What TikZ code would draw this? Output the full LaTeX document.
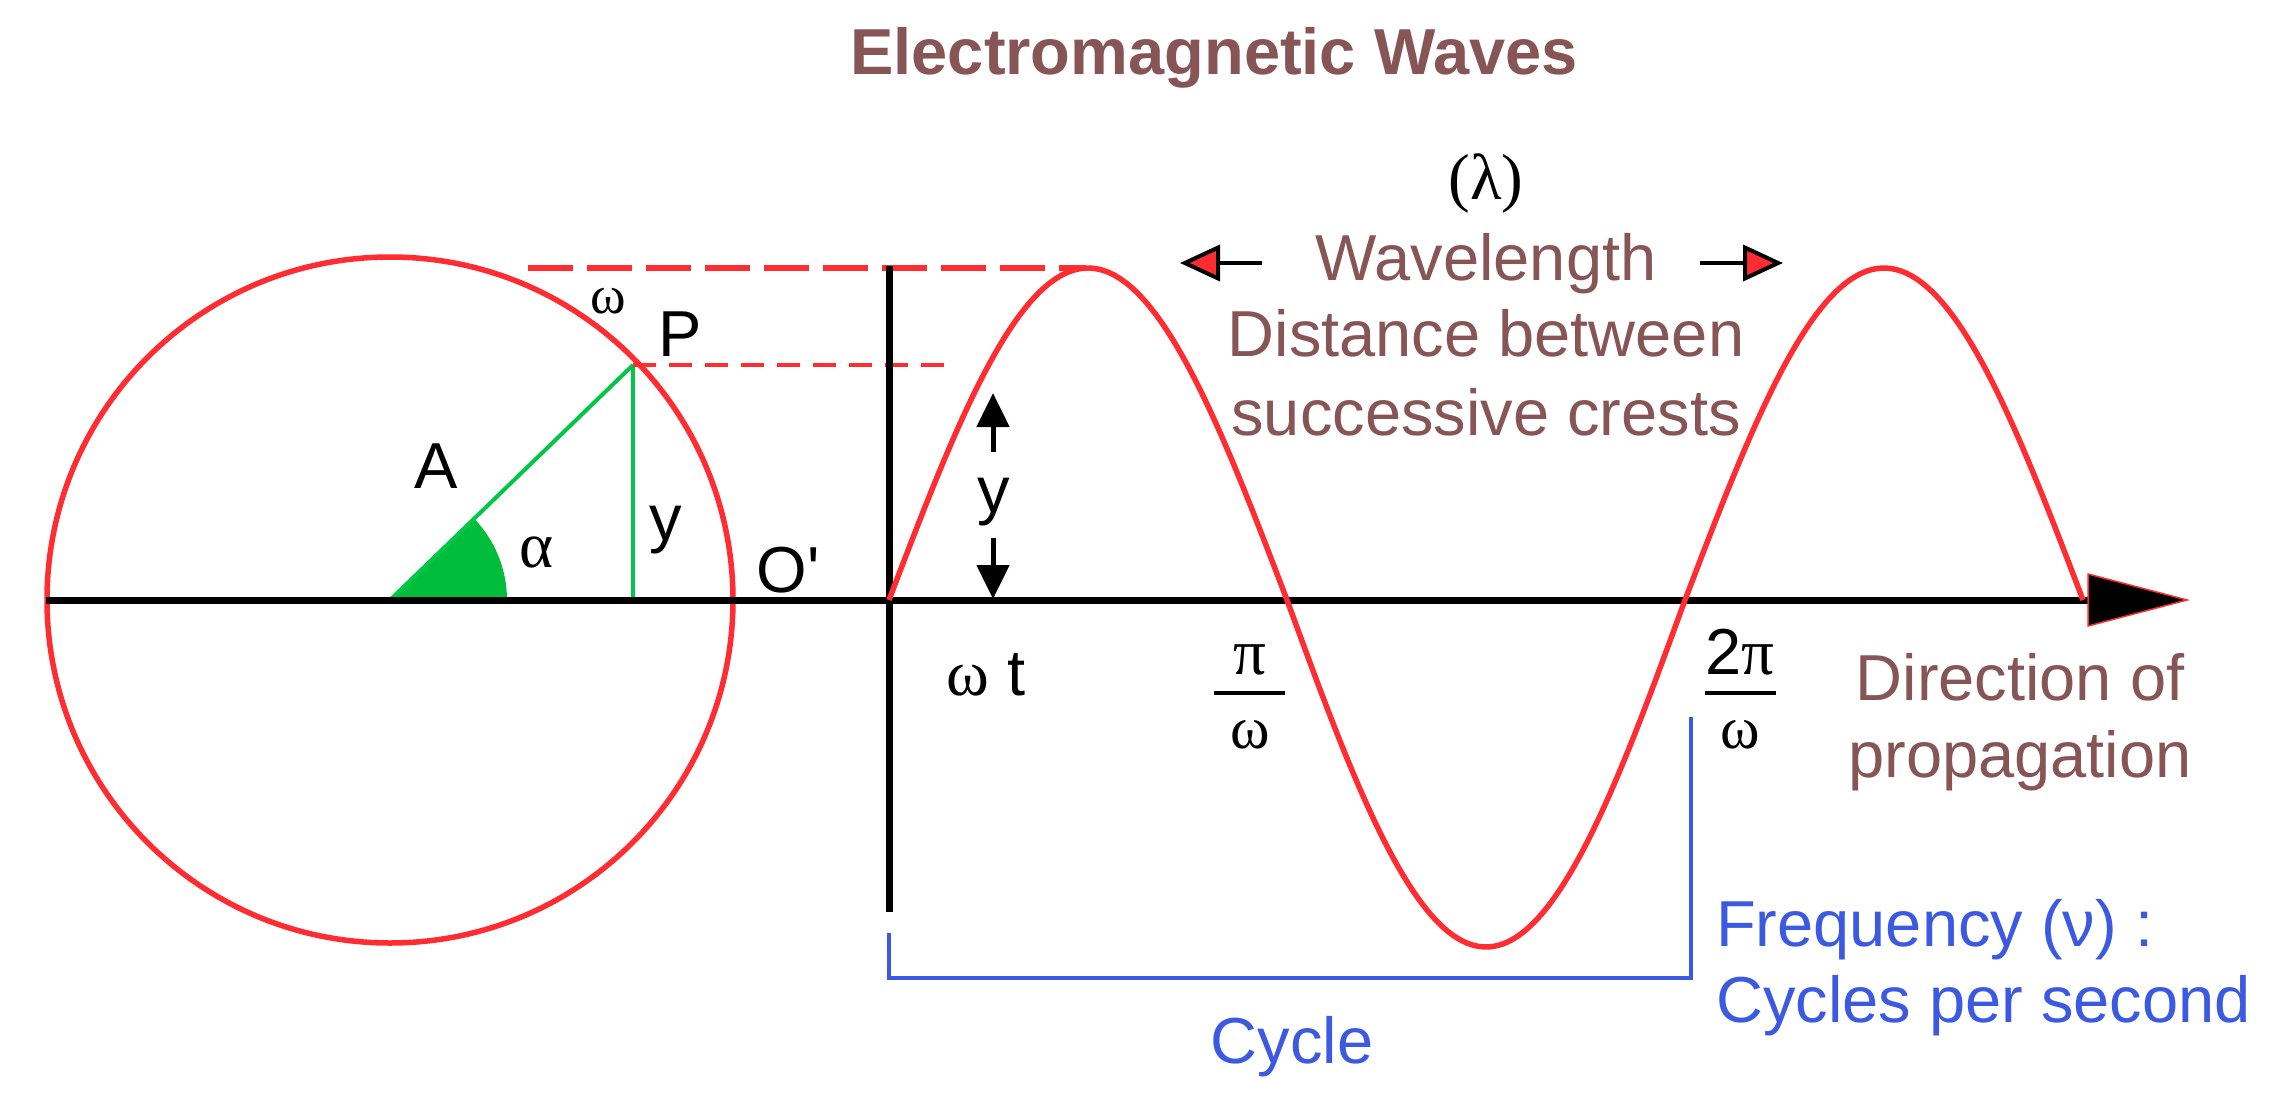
\documentclass[tikz,border=0pt]{standalone}
\usepackage{fontspec}
\setmainfont{Liberation Sans}
\newfontfamily\grk{Liberation Serif}
\newfontfamily\nomap{Liberation Sans}
\usetikzlibrary{arrows.meta}
\definecolor{wred}{RGB}{255,45,50}
\definecolor{wgreen}{RGB}{0,200,70}
\definecolor{sgreen}{RGB}{0,190,60}
\definecolor{brn}{RGB}{135,85,85}
\definecolor{cblue}{RGB}{60,90,225}
\begin{document}
\begin{tikzpicture}[x=1pt,y=-1pt,
  lbl/.style={inner sep=0pt, anchor=base, font=\fontsize{65}{78}\selectfont},
  redline/.style={wred, line width=5.5pt},
  greenline/.style={wgreen, line width=4pt},
  axisline/.style={black, line width=7pt},
  bluebr/.style={cblue, line width=4pt},
  yarrow/.style={line width=5pt, -{Triangle[length=34pt,width=32pt]}},
  wlarrow/.style={black, line width=4pt, -{Triangle[length=40pt,width=36pt,fill=wred]}}
]
\useasboundingbox (0,0) rectangle (2279,1095);

% coordinates
\coordinate (O) at (390,600);
\coordinate (P) at (633,365);
\coordinate (Pf) at (633,600);
\coordinate (axL) at (46,600);
\coordinate (axR) at (2090,600);
\coordinate (vT) at (889,266);
\coordinate (vB) at (889,912);

% title
\node[lbl, text=brn, font=\fontsize{65}{78}\selectfont\bfseries] (title) at (1214,74) {Electromagnetic Waves};

% circle
\draw[redline] (O) circle[radius=343];

% green sector and lines
\fill[sgreen] (O) -- plot[domain=0:44, samples=30] ({390+117*cos(\x)},{600-117*sin(\x)}) -- cycle;
\draw[greenline] (O) -- (P);
\draw[greenline] (P) -- (Pf);

% dashed lines
\coordinate (dT1) at (528,268);
\coordinate (dT2) at (1086,268);
\draw[wred, line width=6.5pt, dash pattern=on 45pt off 14pt] (dT1) -- (dT2);
\coordinate (dP2) at (955,365);
\draw[wred, line width=3.5pt, dash pattern=on 23pt off 13pt] (P) -- (dP2);

% axes
\draw[axisline] (axL) -- (axR);
\filldraw[fill=black, draw=wred, line width=1.5pt] (2088,574) -- (2187,600) -- (2088,626) -- cycle;
\draw[axisline] (vT) -- (vB);

% wave
\draw[redline, line join=round] plot[domain=0:180, samples=80] ({889+\x/180*398},{600-332*sin(\x)})
  -- plot[domain=180:360, samples=80] ({889+\x/180*398},{600-347*sin(\x)})
  -- plot[domain=360:540, samples=80] ({889+\x/180*398},{600-332*sin(\x)});

% y arrows
\coordinate (yu1) at (993,452);
\coordinate (yu2) at (993,393);
\coordinate (yd1) at (993,538);
\coordinate (yd2) at (993,599);
\draw[yarrow] (yu1) -- (yu2);
\draw[yarrow] (yd1) -- (yd2);
\node[lbl] (yl2) at (994,512) {y};

% circle labels
\node[lbl, font=\fontsize{54}{60}\selectfont\grk] (omg) at (608,313) {ω};
\node[lbl] (Pl) at (680,356) {P};
\node[lbl] (Al) at (436,488) {A};
\node[lbl, font=\fontsize{65}{78}\selectfont\grk] (al) at (537,567) {α};
\node[lbl] (yl1) at (666,540) {y};
\node[lbl] (Ol) at (788,592) {\nomap O'};

% axis labels
\node[lbl] (wt) at (986,695) {{\grk ω} t};
\node[lbl, font=\fontsize{65}{78}\selectfont\grk] (pin) at (1250,674) {π};
\coordinate (b1a) at (1214,693);
\coordinate (b1b) at (1285,693);
\draw[line width=3.5pt] (b1a) -- (b1b);
\node[lbl, font=\fontsize{60}{70}\selectfont\grk] (pid) at (1250,748) {ω};
\node[lbl] (tpin) at (1740,674) {2{\grk π}};
\coordinate (b2a) at (1705,693);
\coordinate (b2b) at (1776,693);
\draw[line width=3.5pt] (b2a) -- (b2b);
\node[lbl, font=\fontsize{60}{70}\selectfont\grk] (tpid) at (1740,748) {ω};

% direction
\node[lbl, text=brn] (dir1) at (2020,700) {Direction of};
\node[lbl, text=brn] (dir2) at (2020,777) {propagation};

% wavelength
\node[lbl, font=\fontsize{65}{78}\selectfont\grk] (lam) at (1486,199) {(λ)};
\node[lbl, text=brn] (wl) at (1486,280) {Wavelength};
\node[lbl, text=brn] (db) at (1486,356) {Distance between};
\node[lbl, text=brn] (sc) at (1486,435) {successive crests};
\coordinate (wa1) at (1262,263);
\coordinate (wa2) at (1180,263);
\coordinate (wb1) at (1700,263);
\coordinate (wb2) at (1783,263);
\draw[wlarrow] (wa1) -- (wa2);
\draw[wlarrow] (wb1) -- (wb2);

% cycle bracket
\coordinate (c1) at (889,933);
\coordinate (c2) at (889,978);
\coordinate (c3) at (1691,978);
\coordinate (c4) at (1691,717);
\draw[bluebr] (c1) -- (c2) -- (c3) -- (c4);
\node[lbl, text=cblue] (cyc) at (1292,1063) {Cycle};
\node[lbl, text=cblue, anchor=base west] (fr1) at (1716,946) {Frequency (ν) :};
\node[lbl, text=cblue, anchor=base west] (fr2) at (1716,1022) {Cycles per second};
\end{tikzpicture}
\end{document}
